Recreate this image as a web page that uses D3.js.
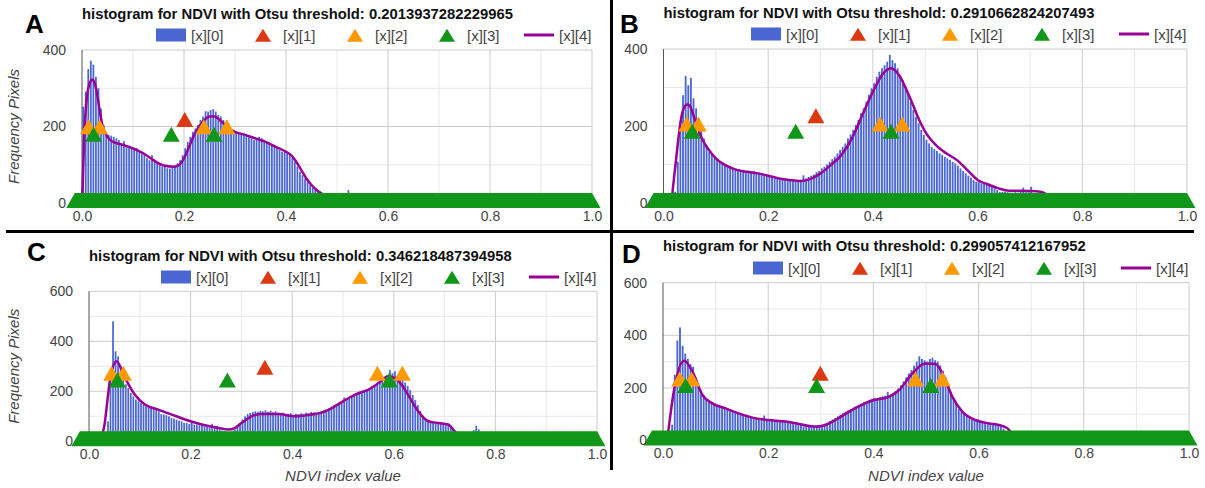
<!DOCTYPE html>
<html>
<head>
<meta charset="utf-8">
<script src="https://cdnjs.cloudflare.com/ajax/libs/d3/7.8.5/d3.min.js"></script>
<style>
body{margin:0;background:#fff;}
svg{display:block;font-family:Arial,"Liberation Sans",sans-serif;}
</style>
</head>
<body>
<script>
// histogram bin width (NDVI units)
var binWidth = 0.005;
var legendLabels = ["[x][0]", "[x][1]", "[x][2]", "[x][3]", "[x][4]"];
var xTicks = [0, 0.2, 0.4, 0.6, 0.8, 1.0];
var xMinor = [0.1, 0.3, 0.5, 0.7, 0.9];

// ---- panel A
var thresholdA = "0.2013937282229965";
var histStartA = 0.0;
var histA = [252,291,350,372,362,330,300,247,204,182,178,176,173,169,165,156,162,152,150,147,
  143,144,134,130,126,117,112,125,108,104,99,95,96,91,90,92,95,104,112,125,
  143,160,173,186,195,204,217,226,240,239,243,245,239,230,226,217,208,200,195,191,
  185,182,180,178,176,173,169,165,169,173,169,165,160,156,152,147,143,139,134,134,
  130,125,117,108,95,82,73,64,56,47,40,34,30,25,21,17,12,10,8,7,
  7,6,8,6,34];
var curveA = [[0,0],[0.005,195],[0.01,282],[0.015,313],[0.02,322],[0.025,313],[0.03,282],[0.035,239],[0.04,204],
  [0.05,173],[0.06,160],[0.08,152],[0.1,143],[0.12,130],[0.14,112],[0.16,98],[0.18,95],[0.19,99],[0.2,117],
  [0.21,147],[0.22,178],[0.23,200],[0.24,217],[0.25,226],[0.26,226],[0.27,217],[0.28,204],[0.29,193],[0.3,186],
  [0.32,178],[0.34,169],[0.36,160],[0.38,147],[0.4,134],[0.41,125],[0.42,108],[0.43,86],[0.44,64],[0.45,47],
  [0.46,34],[0.47,25],[0.48,17],[0.5,10],[0.52,8],[0.55,2],[1.0,0]];
var redA = [[0.2014,212]];
var orangeA = [[0.013,193],[0.0346,193],[0.239,193],[0.284,193]];
var greenA = [[0.0229,173],[0.175,173],[0.259,173]];
var zeroSpanA = [-0.014, 1.0];

// ---- panel B
var thresholdB = "0.2910662824207493";
var histStartB = 0.02;
var histB = [29,107,211,280,330,306,325,272,246,220,194,168,151,133,125,116,112,107,103,99,
  94,96,90,88,86,83,85,81,81,80,83,77,79,73,75,71,68,66,64,65,
  62,63,60,61,60,59,57,60,60,72,64,68,71,74,80,83,90,94,100,107,
  114,120,129,138,146,155,168,178,190,203,216,233,246,263,281,298,311,328,341,350,
  358,367,385,371,363,350,332,319,302,285,263,242,224,207,190,177,164,155,146,140,
  135,129,125,120,116,112,107,103,97,90,83,77,71,66,60,55,54,51,51,48,
  47,42,38,34,29,29,29,28,27,27,28,27,30,40,28,28,42,26,22,15,8];
var curveB = [[0.015,0],[0.02,64],[0.025,125],[0.03,185],[0.035,229],[0.04,250],[0.045,256],[0.05,253],[0.055,237],
  [0.06,216],[0.07,178],[0.08,151],[0.09,132],[0.1,116],[0.12,97],[0.14,86],[0.16,81],[0.18,77],[0.2,71],
  [0.22,64],[0.24,60],[0.26,57],[0.28,62],[0.3,77],[0.32,99],[0.34,125],[0.36,168],[0.38,229],[0.4,289],
  [0.42,337],[0.435,350],[0.45,332],[0.47,276],[0.49,211],[0.5,185],[0.52,151],[0.54,129],[0.56,112],[0.58,86],
  [0.6,60],[0.62,48],[0.64,38],[0.66,32],[0.7,31],[0.72,29],[0.74,16],[0.76,0],[1.0,0]];
var redB = [[0.2911,220]];
var orangeB = [[0.0443,199],[0.0665,199],[0.4136,199],[0.456,199]];
var greenB = [[0.055,180],[0.2525,180],[0.4346,180]];
var zeroSpanB = [-0.019, 1.0];

// ---- panel C
var thresholdC = "0.346218487394958";
var histStartC = 0.035;
var histC = [80,280,480,360,340,300,255,228,213,193,180,167,160,153,147,140,136,133,131,127,
  120,109,107,104,100,93,91,87,83,80,73,73,69,78,67,67,64,64,60,60,
  56,70,56,62,47,43,40,37,37,40,47,60,73,87,100,109,113,117,120,118,
  122,120,124,118,122,116,120,114,112,115,110,108,112,106,110,108,112,110,115,113,
  118,116,115,118,120,125,128,132,138,142,148,152,158,175,165,172,178,182,190,192,
  198,203,208,210,218,222,230,238,245,255,265,285,272,280,262,255,245,235,222,205,
  185,165,145,122,102,88,80,76,74,72,73,75,70,68,66,58,45,32,20,10,
  5,3,3,12,45,62,48,12];
var curveC = [[0.02,0],[0.03,60],[0.041,240],[0.054,320],[0.071,253],[0.09,187],[0.11,147],[0.136,127],[0.163,107],
  [0.189,87],[0.222,67],[0.255,53],[0.274,47],[0.287,53],[0.3,73],[0.32,100],[0.34,109],[0.373,109],[0.405,100],
  [0.438,107],[0.465,120],[0.478,133],[0.5,160],[0.524,187],[0.55,207],[0.57,233],[0.589,260],[0.602,253],
  [0.615,227],[0.632,173],[0.648,120],[0.668,80],[0.688,73],[0.707,67],[0.72,40],[0.735,10],[0.745,2],
  [0.76,12],[0.775,0],[1.0,0]];
var redC = [[0.3462,286]];
var orangeC = [[0.0446,262],[0.0676,262],[0.5676,262],[0.6168,262]];
var greenC = [[0.0558,235],[0.2723,235],[0.5912,235]];
var zeroSpanC = [-0.018, 1.0];

// ---- panel D
var thresholdD = "0.299057412167952";
var histStartD = 0.015;
var histD = [60,250,380,430,360,330,310,290,280,240,210,190,170,158,150,145,138,135,130,128,
  124,120,118,112,110,105,102,100,96,92,90,88,86,85,82,95,80,78,80,76,
  75,72,74,70,70,68,66,64,62,60,58,58,56,55,54,55,58,60,64,68,
  74,80,86,92,98,104,110,115,120,125,130,135,140,145,148,155,158,162,160,165,
  168,170,185,172,178,188,198,210,225,240,255,268,285,300,320,310,305,300,310,315,
  305,300,285,265,240,210,185,160,140,120,110,100,92,85,80,78,75,72,70,68,
  66,64,62,60,58,52,45,35,20];
var curveD = [[0.008,0],[0.021,192],[0.04,303],[0.056,262],[0.075,173],[0.094,141],[0.119,122],[0.144,103],[0.17,87],
  [0.2,78],[0.233,72],[0.259,63],[0.29,53],[0.309,59],[0.328,78],[0.354,110],[0.373,131],[0.398,152],[0.43,167],
  [0.449,192],[0.474,255],[0.499,293],[0.518,291],[0.534,243],[0.55,167],[0.569,110],[0.594,78],[0.62,65],
  [0.639,59],[0.655,46],[0.67,10],[0.68,0],[1.0,0]];
var redD = [[0.299,246]];
var orangeD = [[0.0317,224],[0.0545,224],[0.48,224],[0.531,224]];
var greenD = [[0.043,200],[0.292,200],[0.509,200]];
var zeroSpanD = [-0.021, 1.0];

var colors = {bar:"#4a66d0", red:"#dc3912", orange:"#ff9900", green:"#109618", line:"#990099"};

var panels = [
  {letter:"A", threshold:thresholdA, hist:histA, start:histStartA, curve:curveA, red:redA, orange:orangeA, green:greenA, zero:zeroSpanA,
   yTicks:[0,200,400], yMinor:[100,300], yMax:400, left:82, right:592, top:50, bottom:203,
   titleY:19, legendY:35, letterX:25, letterY:33, yTitle:true, xTitle:false},
  {letter:"B", threshold:thresholdB, hist:histB, start:histStartB, curve:curveB, red:redB, orange:orangeB, green:greenB, zero:zeroSpanB,
   yTicks:[0,200,400], yMinor:[100,300], yMax:400, left:663.5, right:1187, top:49, bottom:203,
   titleY:18, legendY:34, letterX:620, letterY:33, yTitle:false, xTitle:false},
  {letter:"C", threshold:thresholdC, hist:histC, start:histStartC, curve:curveC, red:redC, orange:orangeC, green:greenC, zero:zeroSpanC,
   yTicks:[0,200,400,600], yMinor:[100,300,500], yMax:600, left:89, right:597, top:291.3, bottom:441.3,
   titleY:261, legendY:277, letterX:27, letterY:261, yTitle:true, xTitle:true},
  {letter:"D", threshold:thresholdD, hist:histD, start:histStartD, curve:curveD, red:redD, orange:orangeD, green:greenD, zero:zeroSpanD,
   yTicks:[0,200,400,600], yMinor:[100,300,500], yMax:600, left:663, right:1189, top:282.7, bottom:440.5,
   titleY:251, legendY:268, letterX:622, letterY:263, yTitle:false, xTitle:true}
];

var svg = d3.select("body").append("svg")
  .attr("width", 1205)
  .attr("height", 488);

// triangle with its centroid on the point
function tri(cx, cy, w, h) {
  return "M" + (cx - w/2) + "," + (cy + h/3) + "L" + cx + "," + (cy - 2*h/3) + "L" + (cx + w/2) + "," + (cy + h/3) + "Z";
}
var TW = 17, TH = 15;

panels.forEach(function(p) {
  var g = svg.append("g");
  var x = d3.scaleLinear().domain([0, 1]).range([p.left, p.right]);
  var y = d3.scaleLinear().domain([0, p.yMax]).range([p.bottom, p.top]);

  // gridlines
  g.selectAll(".gxm").data(xMinor).enter().append("line")
    .attr("x1", d => x(d)).attr("x2", d => x(d)).attr("y1", p.top).attr("y2", p.bottom)
    .attr("stroke", "#e8e8e8");
  g.selectAll(".gym").data(p.yMinor).enter().append("line")
    .attr("x1", p.left).attr("x2", p.right).attr("y1", d => y(d)).attr("y2", d => y(d))
    .attr("stroke", "#e8e8e8");
  g.selectAll(".gx").data(xTicks.slice(1)).enter().append("line")
    .attr("x1", d => x(d)).attr("x2", d => x(d)).attr("y1", p.top).attr("y2", p.bottom)
    .attr("stroke", "#cccccc");
  g.selectAll(".gy").data(p.yTicks.slice(1)).enter().append("line")
    .attr("x1", p.left).attr("x2", p.right).attr("y1", d => y(d)).attr("y2", d => y(d))
    .attr("stroke", "#cccccc");

  // histogram bars  [x][0]
  var bw = x(binWidth) - x(0);
  g.selectAll(".bar").data(p.hist).enter().append("rect")
    .attr("x", (d, i) => x(p.start + i * binWidth) + 0.3)
    .attr("y", d => y(d))
    .attr("width", bw - 0.8)
    .attr("height", d => p.bottom - y(d))
    .attr("fill", colors.bar);

  // left axis line
  g.append("line").attr("x1", p.left).attr("x2", p.left).attr("y1", p.top).attr("y2", p.bottom)
    .attr("stroke", "#555");

  // smoothed curve [x][4]
  var line = d3.line().x(d => x(d[0])).y(d => y(d[1])).curve(d3.curveMonotoneX);
  g.append("path").datum(p.curve).attr("d", line)
    .attr("fill", "none").attr("stroke", colors.line).attr("stroke-width", 2.5);

  // zero band of [x][3] points, one triangle per bin fused together
  var z0 = x(p.zero[0]), z1 = x(p.zero[1]), yz = y(0);
  g.append("path")
    .attr("d", "M" + (z0 - TW/2) + "," + (yz + TH/3) + "L" + z0 + "," + (yz - 2*TH/3) +
               "L" + z1 + "," + (yz - 2*TH/3) + "L" + (z1 + TW/2) + "," + (yz + TH/3) + "Z")
    .attr("fill", colors.green);

  // point series
  [["red", p.red], ["orange", p.orange], ["green", p.green]].forEach(function(s) {
    g.selectAll(".pt-" + s[0]).data(s[1]).enter().append("path")
      .attr("d", d => tri(x(d[0]), y(d[1]), TW, TH))
      .attr("fill", colors[s[0]]);
  });

  // axes labels
  var xAxis = d3.axisBottom(x).tickValues(xTicks).tickFormat(d3.format(".1f")).tickSize(0).tickPadding(8);
  var gx = g.append("g").attr("transform", "translate(0," + p.bottom + ")").call(xAxis);
  gx.select(".domain").remove();
  gx.selectAll("text").attr("fill", "#444").attr("font-size", "14px").attr("font-family", "Arial, 'Liberation Sans', sans-serif");

  var yAxis = d3.axisLeft(y).tickValues(p.yTicks).tickFormat(d3.format("d")).tickSize(0).tickPadding(16);
  var gy = g.append("g").attr("transform", "translate(" + p.left + ",0)").call(yAxis);
  gy.select(".domain").remove();
  gy.selectAll("text").attr("fill", "#444").attr("font-size", "14px").attr("font-family", "Arial, 'Liberation Sans', sans-serif");

  if (p.yTitle) {
    g.append("text")
      .attr("transform", "translate(19," + ((p.top + p.bottom) / 2) + ") rotate(-90)")
      .attr("text-anchor", "middle")
      .attr("font-size", "15px").attr("font-style", "italic").attr("fill", "#444")
      .text("Frequency Pixels");
  }
  if (p.xTitle) {
    g.append("text")
      .attr("x", (p.left + p.right) / 2).attr("y", 481)
      .attr("text-anchor", "middle")
      .attr("font-size", "15px").attr("font-style", "italic").attr("fill", "#444")
      .text("NDVI index value");
  }

  // title
  g.append("text").attr("x", p.left).attr("y", p.titleY)
    .attr("font-size", "14.8px").attr("font-weight", "bold").attr("fill", "#111")
    .text("histogram for NDVI with Otsu threshold: " + p.threshold);

  // panel letter
  g.append("text").attr("x", p.letterX).attr("y", p.letterY)
    .attr("font-size", "26px").attr("font-weight", "bold").attr("fill", "#000")
    .text(p.letter);

  // legend
  var ls = p.right - 436, step = 92, ly = p.legendY;
  var lg = g.append("g");
  legendLabels.forEach(function(lab, i) {
    var sx = ls + i * step;
    if (i === 0) {
      lg.append("rect").attr("x", sx).attr("y", ly - 6.5).attr("width", 30).attr("height", 13).attr("fill", colors.bar);
    } else if (i === 4) {
      lg.append("line").attr("x1", sx).attr("x2", sx + 30).attr("y1", ly).attr("y2", ly)
        .attr("stroke", colors.line).attr("stroke-width", 3);
    } else {
      var c = [null, colors.red, colors.orange, colors.green][i];
      lg.append("path").attr("d", tri(sx + 15, ly + 2.5, 16, 13)).attr("fill", c);
    }
    lg.append("text").attr("x", sx + 35).attr("y", ly + 5.5)
      .attr("font-size", "15px").attr("fill", "#444").text(lab);
  });
});

// panel dividers
svg.append("line").attr("x1", 6).attr("x2", 1194).attr("y1", 231.5).attr("y2", 231.5)
  .attr("stroke", "#000").attr("stroke-width", 3);
svg.append("line").attr("x1", 611.5).attr("x2", 611.5).attr("y1", 0).attr("y2", 470)
  .attr("stroke", "#000").attr("stroke-width", 3);
</script>
</body>
</html>
